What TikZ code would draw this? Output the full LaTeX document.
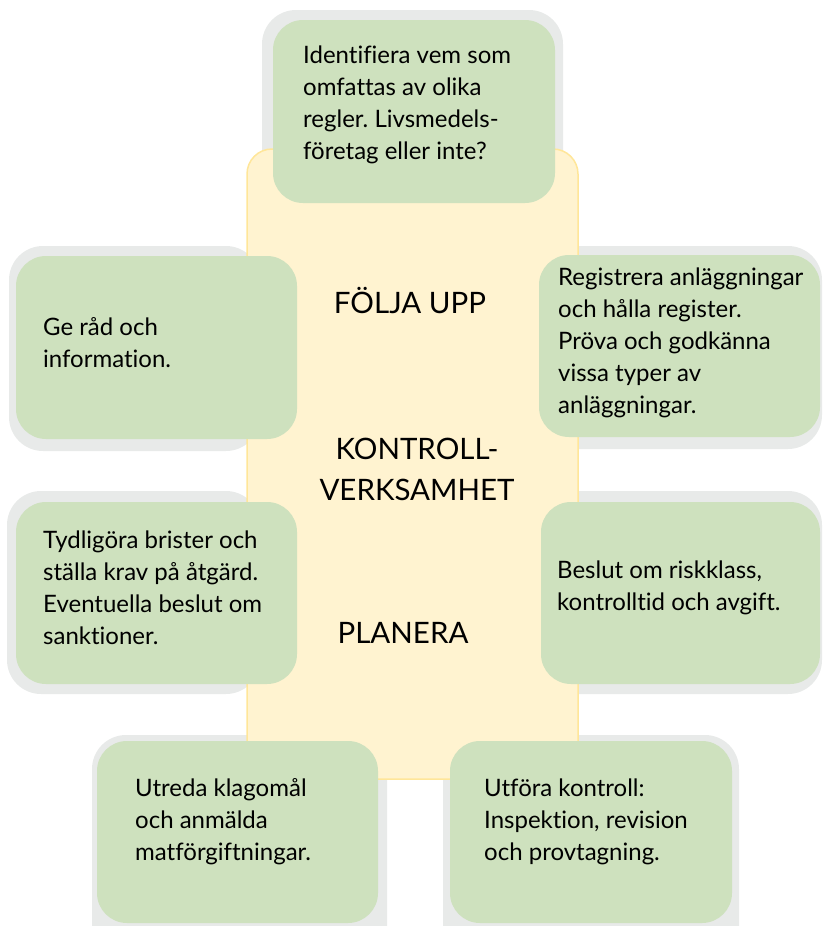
\documentclass[tikz,border=0pt]{standalone}
\usepackage{fontspec}
\setmainfont[Ligatures={NoCommon}]{Lato}
\frenchspacing
\definecolor{boxgreen}{HTML}{CEE1BE}
\definecolor{boxgray}{HTML}{E8EAE9}
\definecolor{ylfill}{HTML}{FFF3D0}
\definecolor{ylline}{HTML}{FFE699}
\begin{document}
\begin{tikzpicture}[x=1pt,y=-1pt,
  graybox/.style={fill=boxgray, rounded corners=34pt},
  greenbox/.style={fill=boxgreen, rounded corners=30pt},
  body/.style={anchor=west, align=left, font=\fontsize{24}{32}\selectfont, inner sep=0pt},
  title/.style={anchor=center, align=center, font=\fontsize{29.5}{41}\selectfont, inner sep=0pt}]
\useasboundingbox (0,0) rectangle (822,926);
\begin{scope}
\clip (0,0) rectangle (822,926);
% gray backing shapes
\fill[graybox] (262,10) rectangle (563,215);
\fill[graybox] (9,246) rectangle (260,451);
\fill[graybox] (530,246) rectangle (822,449);
\fill[graybox] (7,491) rectangle (260,694);
\fill[graybox] (530,491) rectangle (822,694);
\fill[graybox] (92,735) rectangle (387,990);
\fill[graybox] (443,735) rectangle (739,990);
% central yellow panel
\filldraw[fill=ylfill, draw=ylline, line width=1.5pt, rounded corners=25pt] (247,149) rectangle (578,779);
% green boxes
\fill[greenbox] (273,20) rectangle (555,203);
\fill[greenbox] (16,256) rectangle (297,439);
\fill[greenbox] (539,255) rectangle (820,437);
\fill[greenbox] (16,502) rectangle (297,684);
\fill[greenbox] (541,502) rectangle (820,684);
\fill[greenbox] (97,741) rectangle (378,923);
\fill[greenbox] (450,741) rectangle (732,923);
\end{scope}
% texts
\node[body] (t1) at (303,105) {Identifiera vem som\\omfattas av olika\\regler. Livsmedels-\\företag eller inte?};
\node[body] (t2) at (43,343) {Ge råd och\\information.};
\node[body] (t3) at (558,343) {Registrera anläggningar\\och hålla register.\\Pröva och godkänna\\vissa typer av\\anläggningar.};
\node[body] (t4) at (43,588) {Tydligöra brister och\\ställa krav på åtgärd.\\Eventuella beslut om\\sanktioner.};
\node[body] (t5) at (557,588) {Beslut om riskklass,\\kontrolltid och avgift.};
\node[body] (t6) at (135,822) {Utreda klagomål\\och anmälda\\matförgiftningar.};
\node[body] (t7) at (484,822) {Utföra kontroll:\\Inspektion, revision\\och provtagning.};
\node[title] (c1) at (410,301) {FÖLJA UPP};
\node[title] (c2) at (417,469) {KONTROLL-\\VERKSAMHET};
\node[title] (c3) at (403,633) {PLANERA};
\end{tikzpicture}
\end{document}
